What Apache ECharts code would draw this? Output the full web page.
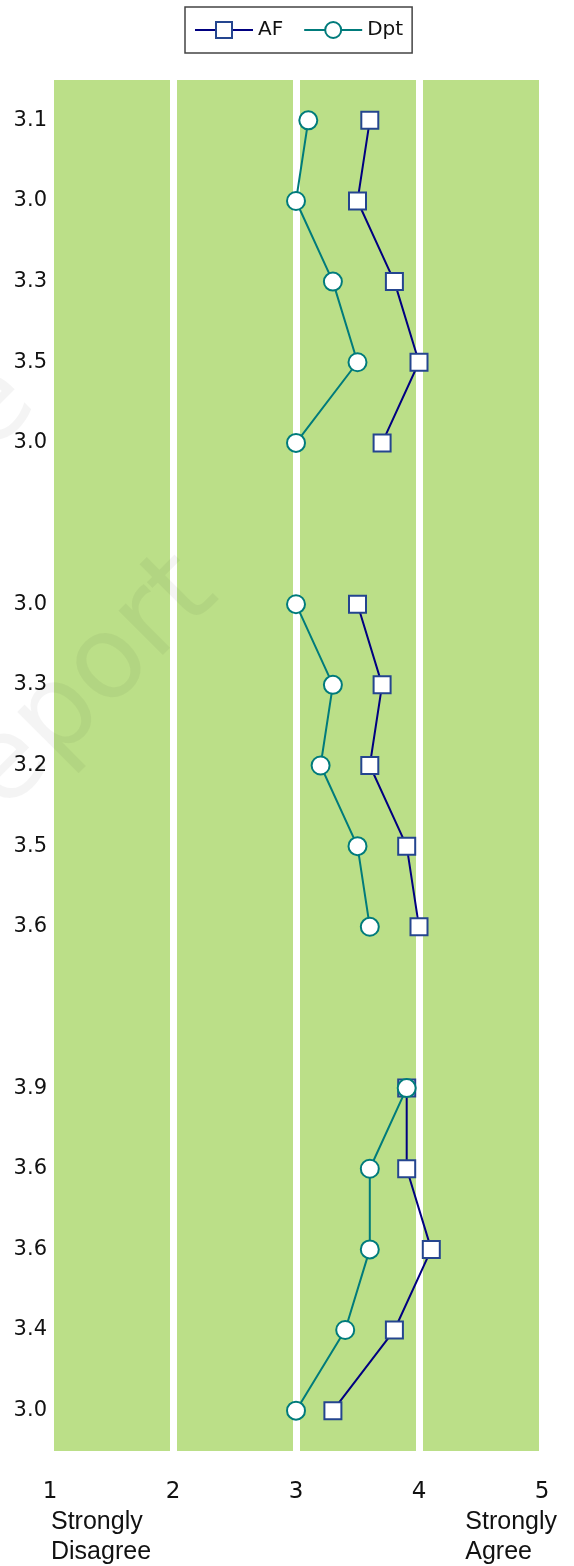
<!DOCTYPE html>
<html>
<head>
<meta charset="utf-8">
<script src="https://cdn.jsdelivr.net/npm/echarts@6/dist/echarts.min.js"></script>
<style>
html,body{margin:0;padding:0;background:#ffffff;}
#chart{width:574px;height:1566px;}
</style>
</head>
<body>
<div id="chart"></div>
<script>
// Row labels shown at the left (average scores); '' marks the blank spacer rows
const rowLabels = ['3.1','3.0','3.3','3.5','3.0','','3.0','3.3','3.2','3.5','3.6','','3.9','3.6','3.6','3.4','3.0'];
// Series values (null = spacer row)
const afValues  = [3.6,3.5,3.8,4.0,3.7,null,3.5,3.7,3.6,3.9,4.0,null,3.9,3.9,4.1,3.8,3.3];
const dptValues = [3.1,3.0,3.3,3.5,3.0,null,3.0,3.3,3.2,3.5,3.6,null,3.9,3.6,3.6,3.4,3.0];
const seriesNames = ['AF','Dpt'];
const xTickLabels = ['1','2','3','4','5'];
const scaleEnds = ['Strongly\nDisagree','Strongly\nAgree'];
const watermarkWords = ['Sample','report'];

const toData = arr => arr.map(v => (v === null ? '-' : v));

const chart = echarts.init(document.getElementById('chart'), null, {renderer:'canvas'});
const numFont = 'DejaVu Sans';
chart.setOption({
  animation: false,
  backgroundColor: '#ffffff',
  legend: {
    left: 185, top: 7,
    padding: [13, 9, 13, 9],
    itemWidth: 58, itemHeight: 20, itemGap: 20,
    borderColor: '#444', borderWidth: 1.5,
    textStyle: {fontFamily: numFont, fontSize: 20, color: '#111'},
    data: seriesNames
  },
  grid: {
    left: 50, right: 32, top: 80, bottom: 115,
    show: true, backgroundColor: '#bbdf88', borderWidth: 0
  },
  xAxis: {
    type: 'value', min: 1, max: 5, interval: 1,
    axisLine: {show: false}, axisTick: {show: false},
    splitLine: {show: true, showMinLine: true, showMaxLine: true, lineStyle: {color: '#ffffff', width: 7}},
    axisLabel: {
      fontFamily: numFont, fontSize: 23, color: '#111', margin: 30,
      formatter: v => xTickLabels[Math.round(v) - 1]
    }
  },
  yAxis: {
    type: 'category', inverse: true, data: rowLabels, boundaryGap: true,
    axisLine: {show: false}, axisTick: {show: false}, splitLine: {show: false},
    axisLabel: {interval: 0, fontFamily: numFont, fontSize: 21, color: '#111', margin: 3}
  },
  graphic: [
    {type: 'text', left: 51, top: 1507, z: 10,
     style: {text: scaleEnds[0], font: '25px "Liberation Sans", Arial, sans-serif', fill: '#111', lineHeight: 30, align: 'left'}},
    {type: 'text', right: 17, top: 1507, z: 10,
     style: {text: scaleEnds[1], font: '25px "Liberation Sans", Arial, sans-serif', fill: '#111', lineHeight: 30, align: 'right'}},
    {type: 'text', x: -8, y: 865, rotation: Math.PI / 4, z: 1, silent: true,
     style: {text: watermarkWords[1], font: '115px "DejaVu Sans"', fill: 'rgba(0,0,0,0.045)', align: 'left', verticalAlign: 'bottom'}},
    {type: 'text', x: 59, y: 425, rotation: Math.PI / 4, z: 1, silent: true,
     style: {text: watermarkWords[0], font: '115px "DejaVu Sans"', fill: 'rgba(0,0,0,0.045)', align: 'right', verticalAlign: 'bottom'}}
  ],
  series: [
    {
      name: seriesNames[0], type: 'line', data: toData(afValues),
      symbol: 'rect', symbolSize: 17, showSymbol: true, showAllSymbol: true,
      connectNulls: false, z: 3,
      lineStyle: {color: '#000080', width: 2},
      itemStyle: {color: '#ffffff', borderColor: '#24458f', borderWidth: 2}
    },
    {
      name: seriesNames[1], type: 'line', data: toData(dptValues),
      symbol: 'circle', symbolSize: 18, showSymbol: true, showAllSymbol: true,
      connectNulls: false, z: 4,
      lineStyle: {color: '#007b7b', width: 2},
      itemStyle: {color: '#ffffff', borderColor: '#007b7b', borderWidth: 2}
    }
  ]
});
</script>
</body>
</html>
